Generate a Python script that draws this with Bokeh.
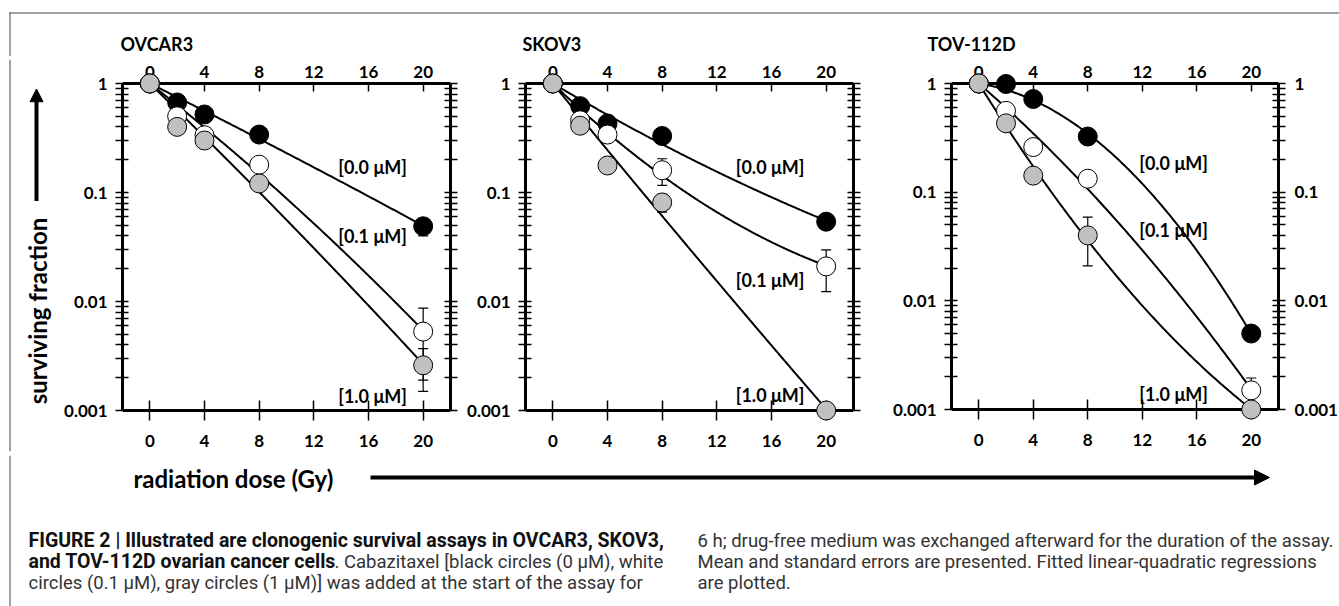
import numpy as np
from bokeh.plotting import figure
from bokeh.models import (Range1d, LinearAxis, LogAxis, FixedTicker, CustomJSTickFormatter,
                          ColumnDataSource, Whisker, TeeHead)
from bokeh.layouts import column, row
from bokeh.embed import file_html
from bokeh.resources import INLINE
from bokeh.core.properties import value

# ---------------- data ----------------
dose = [0, 2, 4, 8, 20]
conc_labels = ["[0.0 μM]", "[0.1 μM]", "[1.0 μM]"]
panel_titles = ["OVCAR3", "SKOV3", "TOV-112D"]

ovcar3_00 = [1.0, 0.67, 0.52, 0.34, 0.049]
ovcar3_01 = [1.0, 0.50, 0.335, 0.18, 0.0053]
ovcar3_10 = [1.0, 0.40, 0.30, 0.121, 0.0026]
ovcar3_00_se = [0, 0, 0, 0, 0.009]
ovcar3_01_se = [0, 0, 0, 0, 0.0034]
ovcar3_10_se = [0, 0, 0, 0, 0.0011]

skov3_00 = [1.0, 0.62, 0.43, 0.33, 0.054]
skov3_01 = [1.0, 0.46, 0.34, 0.16, 0.021]
skov3_10 = [1.0, 0.41, 0.177, 0.081, 0.001]
skov3_00_se = [0, 0, 0, 0, 0]
skov3_01_se = [0, 0, 0, 0.044, 0.0087]
skov3_10_se = [0, 0, 0, 0.015, 0]

tov112d_00 = [1.0, 0.99, 0.72, 0.325, 0.005]
tov112d_01 = [1.0, 0.56, 0.26, 0.133, 0.0015]
tov112d_10 = [1.0, 0.43, 0.142, 0.040, 0.001]
tov112d_00_se = [0, 0, 0, 0, 0.0007]
tov112d_01_se = [0, 0, 0, 0, 0.00045]
tov112d_10_se = [0, 0, 0, 0.019, 0]

x_ticks = [0, 4, 8, 12, 16, 20]
y_ticks = [0.001, 0.01, 0.1, 1]
y_tick_labels = ["0.001", "0.01", "0.1", "1"]
y_minor_ticks = [m * 10.0 ** e for e in (-3, -2, -1) for m in range(2, 10)]

y_label = "surviving fraction"
x_label = "radiation dose (Gy)"
cap_bold_1 = "FIGURE 2 | Illustrated are clonogenic survival assays in OVCAR3, SKOV3,"
cap_bold_2 = "and TOV-112D ovarian cancer cells"
cap_reg_2 = ". Cabazitaxel [black circles (0 μM), white"
cap_reg_3 = "circles (0.1 μM), gray circles (1 μM)] was added at the start of the assay for"
cap_right = ["6 h; drug-free medium was exchanged afterward for the duration of the assay.",
             "Mean and standard errors are presented. Fitted linear-quadratic regressions",
             "are plotted."]

# ---------------- styles ----------------
CHART_FONT = "Lato"
CAP_FONT = "Roboto"
FILLS = ["black", "white", "#c0c0c0"]
BORDER = "#444444"
W, H = 1339, 606
TOP_H = 56
ROW_BOTTOM = 455


def lq_fit(d, s):
    d = np.asarray(d, float)
    s = np.asarray(s, float)
    m = d > 0
    A = np.column_stack([d[m], d[m] ** 2])
    coef, *_ = np.linalg.lstsq(A, -np.log(s[m]), rcond=None)
    return coef


def style_axis(ax):
    ax.axis_line_width = 3
    ax.axis_line_color = "black"
    ax.major_tick_line_width = 1.5
    ax.minor_tick_line_width = 1.5
    ax.major_tick_line_color = "black"
    ax.minor_tick_line_color = "black"
    ax.major_label_text_font = CHART_FONT
    ax.major_label_text_font_style = "bold"
    ax.major_label_text_font_size = "17px"
    ax.major_label_text_color = "black"


def y_formatter(show):
    if show:
        return CustomJSTickFormatter(args=dict(tvals=y_ticks, tlabels=y_tick_labels), code="""
            for (let i = 0; i < tvals.length; i++) {
                if (Math.abs(Math.log10(tvals[i]) - Math.log10(tick)) < 1e-6) return tlabels[i];
            }
            return '';""")
    return CustomJSTickFormatter(code="return '';")


def make_panel(series, ses, geom, right_labels, label_x, label_ys):
    ml, fw, mr, ax_top, ax_bot = geom
    pad_t, pad_b = 24, 44
    f_top, f_bot = ax_top - pad_t, ax_bot + pad_b
    ppd = (ax_bot - ax_top) / 3.0
    yr = Range1d(0.001 * 10 ** (-pad_b / ppd), 1.0 * 10 ** (pad_t / ppd))
    p = figure(title=None, frame_width=fw, frame_height=f_bot - f_top,
               min_border_left=ml, min_border_right=mr,
               min_border_top=f_top - TOP_H, min_border_bottom=ROW_BOTTOM - f_bot,
               x_range=Range1d(-2, 22), y_range=yr, y_axis_type="log",
               x_axis_location=None, y_axis_location=None,
               toolbar_location=None, output_backend="svg",
               outline_line_color=None, background_fill_color="white",
               border_fill_color="white")
    p.grid.visible = False

    bottom = LinearAxis(ticker=FixedTicker(ticks=x_ticks), fixed_location=0.001, bounds=(-2, 22))
    style_axis(bottom)
    bottom.major_tick_in = 10
    bottom.major_tick_out = 10
    bottom.minor_tick_in = 0
    bottom.minor_tick_out = 0
    bottom.major_label_standoff = 14
    p.add_layout(bottom, "below")

    top = LinearAxis(ticker=FixedTicker(ticks=x_ticks), fixed_location=1.0, bounds=(-2, 22))
    style_axis(top)
    top.major_tick_in = 8
    top.major_tick_out = 0
    top.minor_tick_in = 0
    top.minor_tick_out = 0
    top.major_label_standoff = 6
    p.add_layout(top, "above")

    left = LogAxis(ticker=FixedTicker(ticks=y_ticks, minor_ticks=y_minor_ticks),
                   formatter=y_formatter(True), bounds=(0.001, 1))
    style_axis(left)
    left.major_tick_in = 6
    left.major_tick_out = 7
    left.minor_tick_in = 6
    left.minor_tick_out = 7
    left.major_label_standoff = 8
    p.add_layout(left, "left")

    right = LogAxis(ticker=FixedTicker(ticks=y_ticks, minor_ticks=y_minor_ticks),
                    formatter=y_formatter(right_labels), bounds=(0.001, 1))
    style_axis(right)
    right.major_tick_in = 6
    right.major_tick_out = 7
    right.minor_tick_in = 6
    right.minor_tick_out = 7
    right.major_label_standoff = 9 if right_labels else 0
    p.add_layout(right, "right")

    dd = np.linspace(0, 20, 201)
    for s in series:
        a, b = lq_fit(dose, s)
        p.line(dd, np.exp(-(a * dd + b * dd ** 2)), line_color="black", line_width=2)

    for s, se in zip(series, ses):
        idx = [i for i, e in enumerate(se) if e > 0]
        if idx:
            src = ColumnDataSource(dict(base=[dose[i] for i in idx],
                                        lower=[s[i] - se[i] for i in idx],
                                        upper=[s[i] + se[i] for i in idx]))
            w = Whisker(source=src, base="base", lower="lower", upper="upper", dimension="height",
                        line_width=1.2, line_color="black", level="annotation",
                        upper_head=TeeHead(size=10, line_width=1.2, line_color="black"),
                        lower_head=TeeHead(size=10, line_width=1.2, line_color="black"))
            p.add_layout(w)

    for s, fc in zip(series, FILLS):
        p.scatter(dose, s, size=19, fill_color=fc, line_color="black", line_width=1, level="overlay")

    p.text(x=[label_x] * 3, y=label_ys, text=conc_labels, text_font=value(CHART_FONT),
           text_font_style="bold", text_font_size="18px", text_align="center",
           text_baseline="middle", text_color="black")
    return p


def pixel_fig(x0, y0, w, h):
    f = figure(title=None, width=w, height=h, x_range=Range1d(x0, x0 + w), y_range=Range1d(y0 + h, y0),
               x_axis_location=None, y_axis_location=None, toolbar_location=None,
               output_backend="svg", min_border=0, outline_line_color=None,
               background_fill_color="white", border_fill_color="white")
    f.grid.visible = False
    return f


def left_border(f, y0, y1):
    f.quad(left=[9], right=[10], bottom=[y1], top=[y0], fill_color=BORDER, line_color=None)


# ---------------- top strip ----------------
top_strip = pixel_fig(0, 0, W, TOP_H)
top_strip.quad(left=[9], right=[W], bottom=[13], top=[12], fill_color=BORDER, line_color=None)
left_border(top_strip, 12, TOP_H)
top_strip.text(x=[120, 522, 927], y=[43, 43, 43], text=panel_titles, text_font=value(CHART_FONT),
               text_font_style="bold", text_font_size="18px", text_align="left",
               text_baseline="middle", text_color="black")

# ---------------- left strip ----------------
LEFT_W = 52
left_strip = pixel_fig(0, TOP_H, LEFT_W, ROW_BOTTOM - TOP_H)
left_border(left_strip, TOP_H, ROW_BOTTOM)
left_strip.text(x=[37], y=[312], text=[y_label], angle=np.pi / 2, text_font=value(CHART_FONT),
                text_font_style="bold", text_font_size="24px", text_align="center",
                text_baseline="middle", text_color="black")
left_strip.segment(x0=[36], y0=[200], x1=[36], y1=[97], line_color="black", line_width=4)
left_strip.patch(x=[29.5, 42.5, 36], y=[99, 99, 86], fill_color="black", line_color="black")

# ---------------- panels ----------------
p1 = make_panel([ovcar3_00, ovcar3_01, ovcar3_10], [ovcar3_00_se, ovcar3_01_se, ovcar3_10_se],
                (70, 328, 10, 80, 407), False, 16.3, [0.173, 0.040, 0.00135])
p2 = make_panel([skov3_00, skov3_01, skov3_10], [skov3_00_se, skov3_01_se, skov3_10_se],
                (65, 328, 31, 80, 407), False, 15.9, [0.173, 0.0156, 0.00138])
p3 = make_panel([tov112d_00, tov112d_01, tov112d_10], [tov112d_00_se, tov112d_01_se, tov112d_10_se],
                (67, 327, 61, 83, 409), True, 14.3, [0.184, 0.0444, 0.0014])

# ---------------- bottom strip ----------------
bottom_strip = pixel_fig(0, ROW_BOTTOM, W, H - ROW_BOTTOM)
left_border(bottom_strip, ROW_BOTTOM, H)
bottom_strip.text(x=[133], y=[478], text=[x_label], text_font=value(CHART_FONT),
                  text_font_style="bold", text_font_size="24px", text_align="left",
                  text_baseline="middle", text_color="black")
bottom_strip.segment(x0=[370], y0=[477], x1=[1256], y1=[477], line_color="black", line_width=4)
bottom_strip.patch(x=[1254, 1254, 1269], y=[469.5, 484.5, 477], fill_color="black", line_color="black")

BOLD_SIZE = "19.5px"
REG_SIZE = "18.5px"
bottom_strip.text(x=[28, 28], y=[540, 561], text=[cap_bold_1, cap_bold_2], text_font=value(CAP_FONT),
                  text_font_style="bold", text_font_size=BOLD_SIZE, text_align="left",
                  text_baseline="middle", text_color="#111111")
bottom_strip.text(x=[334, 28], y=[561, 582], text=[cap_reg_2, cap_reg_3], text_font=value(CAP_FONT),
                  text_font_size=REG_SIZE, text_align="left", text_baseline="middle", text_color="#333333")
bottom_strip.text(x=[697, 697, 697], y=[540, 561, 582], text=cap_right, text_font=value(CAP_FONT),
                  text_font_size=REG_SIZE, text_align="left", text_baseline="middle", text_color="#333333")

layout = column(top_strip, row(left_strip, p1, p2, p3), bottom_strip)
open("out.html", "w").write(file_html(layout, INLINE))
